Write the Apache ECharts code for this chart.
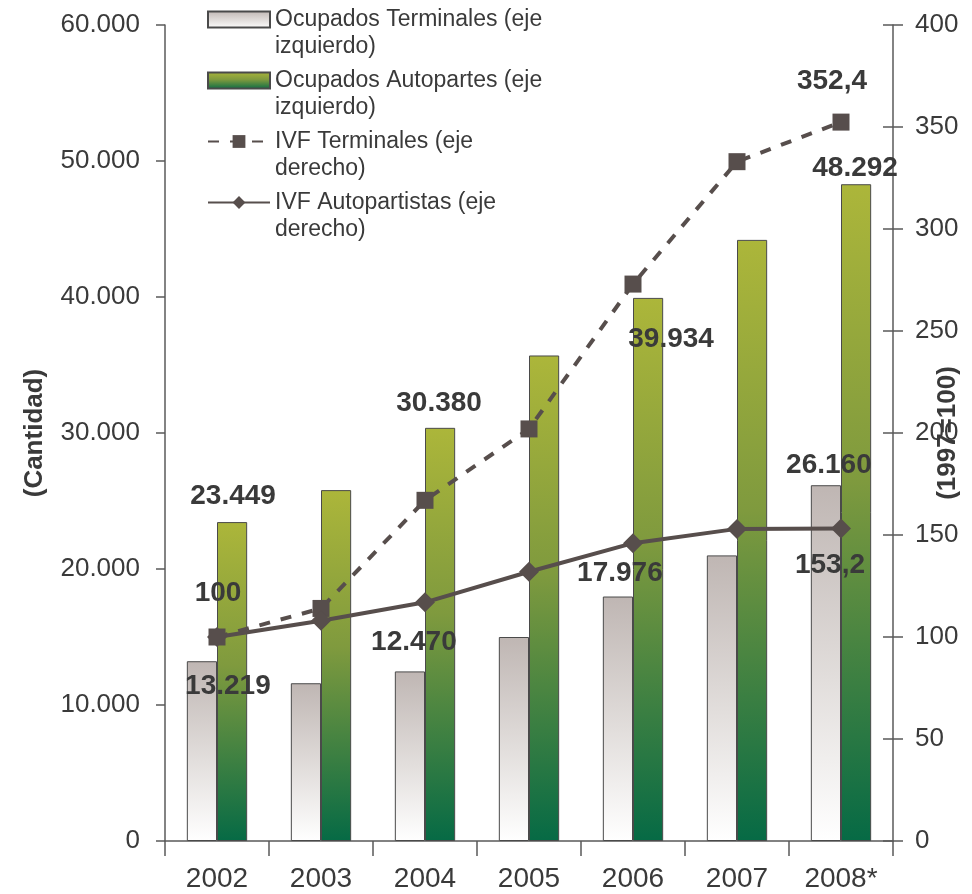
<!DOCTYPE html>
<html>
<head>
<meta charset="utf-8">
<script src="https://cdn.jsdelivr.net/npm/echarts@6/dist/echarts.min.js"></script>
<style>
  html, body { margin: 0; padding: 0; background: #ffffff; }
  #chart { width: 972px; height: 894px; }
</style>
</head>
<body>
<div id="chart"></div>
<script>
// Categories and series values
const years = ['2002', '2003', '2004', '2005', '2006', '2007', '2008*'];
const ocupadosTerminales = [13219, 11600, 12470, 15000, 17976, 21000, 26160];
const ocupadosAutopartes = [23449, 25800, 30380, 35700, 39934, 44200, 48292];
const ivfTerminales = [100, 114, 167, 202, 273, 333, 352.4];
const ivfAutopartistas = [100, 108, 117, 132, 146, 153, 153.2];

// Axis scales
const leftAxisMin = 0, leftAxisMax = 60000, leftAxisStep = 10000;
const rightAxisMin = 0, rightAxisMax = 400, rightAxisStep = 50;

// Series names (legend text)
const seriesNames = [
  'Ocupados Terminales (eje\nizquierdo)',
  'Ocupados Autopartes (eje\nizquierdo)',
  'IVF Terminales (eje\nderecho)',
  'IVF Autopartistas (eje\nderecho)'
];

// Labelled points: index -> label offset [dx, dy] from the default top position
const terminalesLabelAt = { 0: [26, 44], 2: [4, -10], 4: [2, -4], 6: [3, -1] };
const autopartesLabelAt = { 0: [1, -7], 2: [-1, -6], 4: [23, 60], 6: [-1, 3] };
const ivfTerminalesLabelAt = { 6: [-9, -13] };
const ivfAutopartistasLabelAt = { 0: [1, -15], 6: [-11, 66] };

const FONT = "'Liberation Sans', Arial, Helvetica, sans-serif";
const TEXT = '#3a3a3a';
const LINE = '#574e4c';
const AXIS = '#5a5a5a';

function thousands(v) {
  return String(Math.round(v)).replace(/\B(?=(\d{3})+(?!\d))/g, '.');
}
function decimalComma(v) {
  return Number.isInteger(v) ? String(v) : v.toFixed(1).replace('.', ',');
}

const valueLabel = {
  show: true,
  position: 'top',
  distance: 5,
  fontFamily: FONT,
  fontWeight: 'bold',
  fontSize: 28,
  color: TEXT
};

function withLabels(values, labelAt, fmt) {
  return values.map((v, i) => {
    if (!labelAt[i]) return v;
    return {
      value: v,
      label: Object.assign({}, valueLabel, { offset: labelAt[i], formatter: () => fmt(v) })
    };
  });
}

const gradTerminales = new echarts.graphic.LinearGradient(0, 0, 0, 1, [
  { offset: 0, color: '#bfb6b3' },
  { offset: 0.55, color: '#e2dedc' },
  { offset: 1, color: '#ffffff' }
]);
const gradAutopartes = new echarts.graphic.LinearGradient(0, 0, 0, 1, [
  { offset: 0, color: '#acb63a' },
  { offset: 0.45, color: '#7f9a3e' },
  { offset: 1, color: '#066a45' }
]);

const chart = echarts.init(document.getElementById('chart'), null, { renderer: 'canvas' });

chart.setOption({
  animation: false,
  backgroundColor: '#ffffff',
  textStyle: { fontFamily: FONT },
  grid: { left: 165, right: 79, top: 25, bottom: 53, containLabel: false, outerBoundsMode: 'none' },
  legend: {
    orient: 'vertical',
    left: 207,
    top: -21,
    padding: 0,
    itemWidth: 62,
    itemHeight: 16,
    itemGap: -20,
    data: [
      { name: seriesNames[0], icon: 'rect' },
      { name: seriesNames[1], icon: 'rect' },
      { name: seriesNames[2] },
      { name: seriesNames[3] }
    ],
    // a leading empty line keeps the symbol level with the first text line
    formatter: name => '\n' + name,
    textStyle: {
      fontFamily: FONT,
      fontSize: 23,
      color: TEXT,
      lineHeight: 27
    }
  },
  xAxis: {
    type: 'category',
    data: years,
    axisLine: { lineStyle: { color: AXIS, width: 1.5 } },
    axisTick: { show: true, length: 15, lineStyle: { color: AXIS, width: 1.5 } },
    axisLabel: { fontFamily: FONT, fontSize: 28, color: TEXT, margin: 24 }
  },
  yAxis: [
    {
      type: 'value',
      position: 'left',
      min: leftAxisMin,
      max: leftAxisMax,
      interval: leftAxisStep,
      name: '(Cantidad)',
      nameLocation: 'middle',
      nameRotate: 90,
      nameGap: 117,
      nameMoveOverlap: false,
      nameTextStyle: { fontFamily: FONT, fontWeight: 'bold', fontSize: 26, color: TEXT },
      axisLine: { show: true, lineStyle: { color: AXIS, width: 1.5 } },
      axisTick: { show: true, length: 9, lineStyle: { color: AXIS, width: 1.5 } },
      splitLine: { show: false },
      axisLabel: { fontFamily: FONT, fontSize: 26, color: TEXT, margin: 25, formatter: v => thousands(v) }
    },
    {
      type: 'value',
      position: 'right',
      min: rightAxisMin,
      max: rightAxisMax,
      interval: rightAxisStep,
      name: '(1997=100)',
      nameLocation: 'middle',
      nameRotate: 90,
      nameGap: 42,
      nameMoveOverlap: false,
      nameTextStyle: { fontFamily: FONT, fontWeight: 'bold', fontSize: 26, color: TEXT },
      axisLine: { show: true, lineStyle: { color: AXIS, width: 1.5 } },
      axisTick: { show: true, length: 10, lineStyle: { color: AXIS, width: 1.5 } },
      splitLine: { show: false },
      axisLabel: { fontFamily: FONT, fontSize: 26, color: TEXT, margin: 22 }
    },
    {
      // inner half of the right axis tick marks
      type: 'value',
      position: 'right',
      offset: 0,
      min: rightAxisMin,
      max: rightAxisMax,
      interval: rightAxisStep,
      axisLine: { show: false },
      axisTick: { show: true, inside: true, length: 10, lineStyle: { color: AXIS, width: 1.5 } },
      axisLabel: { show: false },
      splitLine: { show: false }
    }
  ],
  series: [
    {
      name: seriesNames[0],
      type: 'bar',
      yAxisIndex: 0,
      barWidth: '29%',
      barGap: '0%',
      itemStyle: { color: gradTerminales, borderColor: '#4a4a4a', borderWidth: 1 },
      data: withLabels(ocupadosTerminales, terminalesLabelAt, thousands),
      z: 2
    },
    {
      name: seriesNames[1],
      type: 'bar',
      yAxisIndex: 0,
      barWidth: '29%',
      barGap: '0%',
      itemStyle: { color: gradAutopartes, borderColor: '#4a4a4a', borderWidth: 1 },
      data: withLabels(ocupadosAutopartes, autopartesLabelAt, thousands),
      z: 2
    },
    {
      name: seriesNames[2],
      type: 'line',
      yAxisIndex: 1,
      symbol: 'rect',
      symbolSize: 17,
      lineStyle: { color: LINE, width: 4, type: [11, 11] },
      itemStyle: { color: LINE, borderWidth: 0 },
      data: withLabels(ivfTerminales, ivfTerminalesLabelAt, decimalComma),
      z: 5
    },
    {
      name: seriesNames[3],
      type: 'line',
      yAxisIndex: 1,
      symbol: 'diamond',
      symbolSize: 20,
      lineStyle: { color: LINE, width: 4 },
      itemStyle: { color: LINE, borderWidth: 0 },
      data: withLabels(ivfAutopartistas, ivfAutopartistasLabelAt, decimalComma),
      z: 5
    }
  ]
});
</script>
</body>
</html>
